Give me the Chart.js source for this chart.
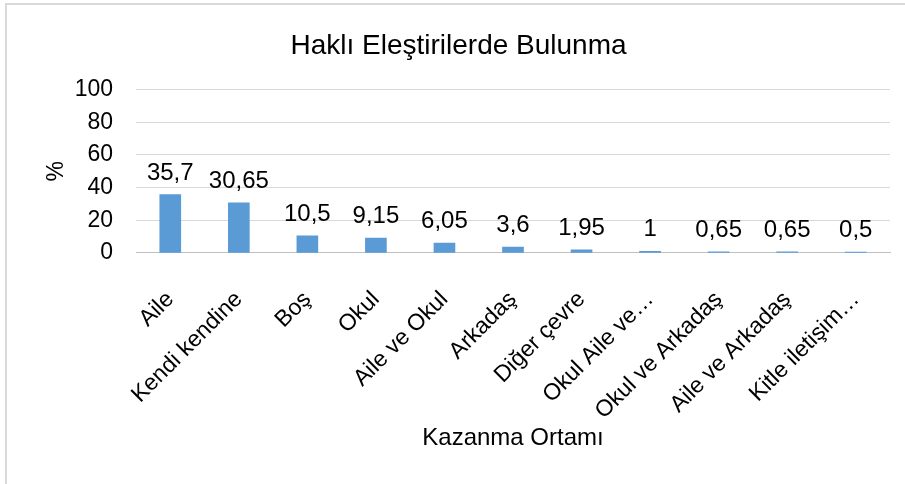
<!DOCTYPE html>
<html>
<head>
<meta charset="utf-8">
<script src="https://cdn.jsdelivr.net/npm/chart.js@4"></script>
<style>
    html, body { margin: 0; padding: 0; background: #fff; overflow: hidden; }
    #kutu {
        position: absolute; left: 5px; top: 3px;
        width: 910px; height: 490px;
        border-left: 2px solid #d9d9d9; border-top: 2px solid #d9d9d9;
    }
    #grafik { position: absolute; left: 0; top: 0; }
</style>
</head>
<body>
<div id="kutu"><canvas id="grafik" width="898" height="479"></canvas></div>
<script>
const kategoriler = ['Aile', 'Kendi kendine', 'Boş', 'Okul', 'Aile ve Okul', 'Arkadaş',
    'Diğer çevre', 'Okul Aile ve…', 'Okul ve Arkadaş', 'Aile ve Arkadaş', 'Kitle iletişim…'];
const degerler = [35.7, 30.65, 10.5, 9.15, 6.05, 3.6, 1.95, 1, 0.65, 0.65, 0.5];
const yTikler = [0, 20, 40, 60, 80, 100];

const yazi = 'Liberation Sans, Arial, sans-serif';

// bar etiketleri (35,7 gibi virgullu)
const etiketEklentisi = {
    id: 'etiketler',
    afterDatasetsDraw(chart) {
        const ctx = chart.ctx;
        const meta = chart.getDatasetMeta(0);
        ctx.save();
        ctx.font = '24px ' + yazi;
        ctx.fillStyle = '#000';
        ctx.textAlign = 'center';
        ctx.textBaseline = 'alphabetic';
        meta.data.forEach((bar, i) => {
            ctx.fillText(String(degerler[i]).replace('.', ','), bar.x, bar.y - 15);
        });
        ctx.restore();
    }
};

new Chart(document.getElementById('grafik'), {
    type: 'bar',
    data: {
        labels: kategoriler,
        datasets: [{
            data: degerler,
            backgroundColor: '#5b9bd5',
            barThickness: 21
        }]
    },
    options: {
        responsive: false,
        animation: false,
        layout: { padding: { left: 20, right: 15, top: 0, bottom: 31 } },
        plugins: {
            legend: { display: false },
            tooltip: { enabled: false },
            title: {
                display: true,
                text: 'Haklı Eleştirilerde Bulunma',
                color: '#000',
                font: { family: yazi, size: 28, weight: 'normal' },
                padding: { top: 24, bottom: 27 }
            }
        },
        scales: {
            x: {
                grid: { display: false },
                border: { color: '#bfbfbf' },
                ticks: {
                    color: '#000',
                    font: { family: yazi, size: 23 },
                    minRotation: 45, maxRotation: 45,
                    autoSkip: false,
                    padding: 25
                },
                title: {
                    display: true,
                    text: 'Kazanma Ortamı',
                    color: '#000',
                    font: { family: yazi, size: 24 },
                    padding: 0
                },
                afterFit(s) { s.height = 200; }
            },
            y: {
                min: 0, max: 100,
                afterBuildTicks(s) { s.ticks = yTikler.map(v => ({ value: v })); },
                grid: { color: '#d9d9d9', drawTicks: false },
                border: { display: false },
                ticks: {
                    color: '#000',
                    font: { family: yazi, size: 23 },
                    padding: 23
                },
                title: {
                    display: true,
                    text: '%',
                    color: '#000',
                    font: { family: yazi, size: 23 },
                    padding: { top: 16, bottom: 0 }
                },
                afterFit(s) { s.width = 109; }
            }
        }
    },
    plugins: [etiketEklentisi]
});
</script>
</body>
</html>
